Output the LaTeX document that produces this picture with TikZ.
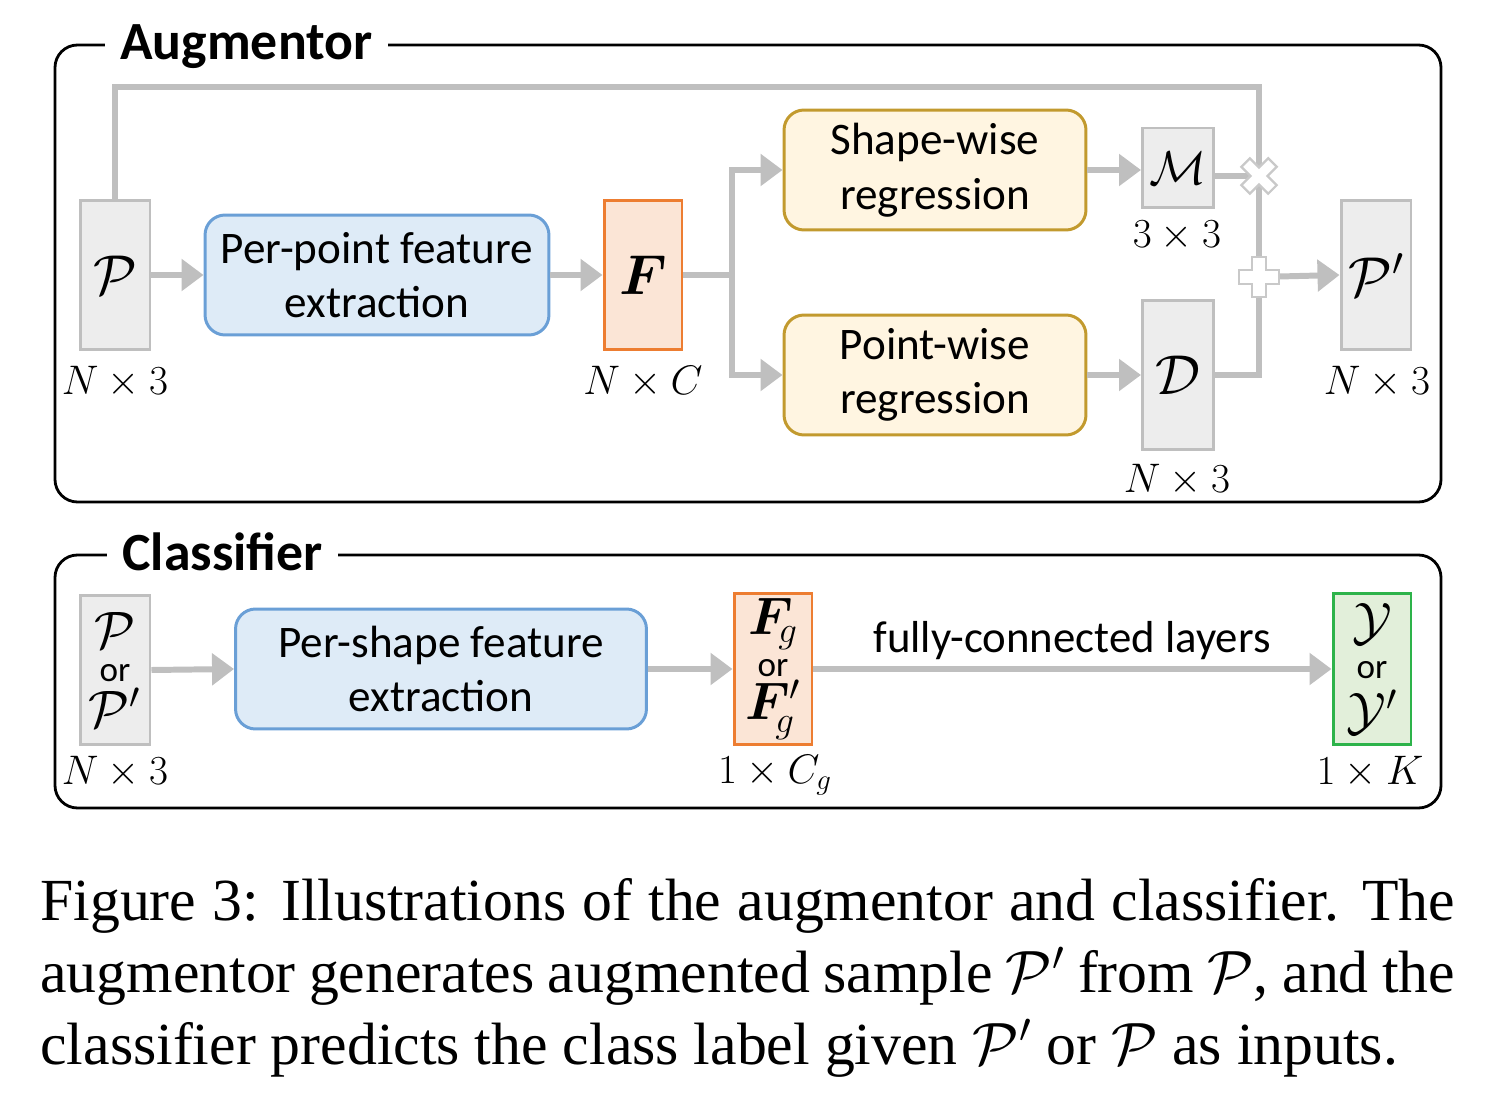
\RequirePackage{fix-cm}
\documentclass[tikz,border=0pt]{standalone}
\usepackage{amsmath}
\usepackage{bm}
\usepackage{fontspec}
\setmainfont{Carlito}
\newfontfamily\capfont{Liberation Serif}
\usetikzlibrary{arrows.meta,calc}
\definecolor{lgray}{HTML}{BFBFBF}
\definecolor{bgray}{HTML}{EDEDED}
\definecolor{bfill}{HTML}{DEEBF7}
\definecolor{bline}{HTML}{6A9FD6}
\definecolor{ofill}{HTML}{FBE5D6}
\definecolor{oline}{HTML}{ED7D31}
\definecolor{yfill}{HTML}{FFF5E1}
\definecolor{yline}{HTML}{C29A2E}
\definecolor{gfill}{HTML}{E2EFDA}
\definecolor{gline}{HTML}{2DB34A}
\tikzset{
  base/.style={inner sep=0pt, line width=1.7pt, align=center},
  graybox/.style={base, draw=lgray, fill=bgray, minimum width=1.4cm, minimum height=3cm},
  orbox/.style={base, draw=oline, fill=ofill, minimum width=1.56cm, minimum height=3cm},
  grbox/.style={base, draw=gline, fill=gfill, minimum width=1.56cm, minimum height=3.04cm},
  bluebox/.style={base, draw=bline, fill=bfill, rounded corners=0.4cm, minimum height=2.4cm,
    font=\fontsize{25.7}{31}\selectfont},
  yelbox/.style={base, draw=yline, fill=yfill, rounded corners=0.4cm, minimum width=6.04cm,
    minimum height=2.4cm, font=\fontsize{25.7}{31}\selectfont},
  conn/.style={draw=lgray, line width=3.4pt},
  arr/.style={conn, -{Triangle[length=0.44cm,width=0.62cm]}},
  dimlbl/.style={inner sep=0pt, font=\fontsize{23.5}{28}\selectfont},
  frame/.style={draw=black, line width=1.6pt, rounded corners=0.45cm},
  ttl/.style={fill=white, inner xsep=0.3cm, inner ysep=0.05cm, font=\fontsize{30.6}{36}\selectfont\bfseries},
  sym/.style={draw=lgray!85, fill=white, line width=1.3pt},
  big/.style={font=\fontsize{32}{36}\selectfont},
  stack/.style={font=\fontsize{30}{24}\selectfont},
}
\newcommand\orw{{\fontsize{20}{20}\selectfont or}}
\begin{document}
\begin{tikzpicture}[x=0.02cm, y=-0.02cm]
\useasboundingbox (0,0) rectangle (1512,1118);

% ---------------- Augmentor ----------------
\draw[frame] (55,45) rectangle (1441,502);
\node[ttl, anchor=base west] (tA) at (105,60) {Augmentor};

\node[graybox, big] (P) at (115,275) {$\mathcal{P}$};
\node[bluebox, minimum width=6.88cm] (pp) at (377,275) {Per-point feature\\extraction};
\node[orbox, big] (F) at (643,275) {$\bm{F}$};
\node[yelbox] (sw) at (935,170) {Shape-wise\\regression};
\node[yelbox] (pw) at (935,375) {Point-wise\\regression};
\node[graybox, font=\fontsize{27}{30}\selectfont, minimum width=1.42cm, minimum height=1.6cm] (M) at (1178,168) {$\mathcal{M}$};
\node[graybox, big, minimum width=1.42cm] (D) at (1178,375) {$\mathcal{D}$};
\node[graybox, big] (Pp) at (1376,275) {$\mathcal{P}'$};

\node[dimlbl] (lP) at (115,382) {$N\times 3$};
\node[dimlbl] (lF) at (643,382) {$N\times C$};
\node[dimlbl] (lM) at (1177,236) {$3\times 3$};
\node[dimlbl] (lD) at (1177,480) {$N\times 3$};
\node[dimlbl] (lPp) at (1377,382) {$N\times 3$};

\coordinate (mul) at (1259,176);
\coordinate (add) at (1259,277);
\coordinate (topr) at (1259,87);
\coordinate (br) at (732,275);

\draw[arr] (P.east) -- (pp.west);
\draw[arr] (pp.east) -- (F.west);
\draw[conn] (F.east) -- (br);
\draw[arr] (br) |- (sw.west);
\draw[arr] (br) |- (pw.west);
\draw[arr] (sw.east) -- (sw.east -| M.west);
\draw[arr] (pw.east) -- (D.west);
\draw[conn] (M.east |- mul) -- (mul);
\draw[conn] (P.north) |- (topr) -- (mul);
\draw[conn] (mul) -- (add);
\draw[conn] (D.east) -| (add);
\draw[arr] (add) -- (Pp.west);

% multiply symbol
\begin{scope}[shift={(mul)}, rotate=45]
\draw[sym] (6,19) -- (6,6) -- (19,6) -- (19,-6) -- (6,-6) -- (6,-19) -- (-6,-19) -- (-6,-6)
  -- (-19,-6) -- (-19,6) -- (-6,6) -- (-6,19) -- cycle;
\end{scope}
% plus symbol
\begin{scope}[shift={(add)}]
\draw[sym] (7,20) -- (7,7) -- (20,7) -- (20,-7) -- (7,-7) -- (7,-20) -- (-7,-20) -- (-7,-7)
  -- (-20,-7) -- (-20,7) -- (-7,7) -- (-7,20) -- cycle;
\end{scope}

% ---------------- Classifier ----------------
\draw[frame] (55,555) rectangle (1441,808);
\node[ttl, anchor=base west] (tC) at (107,570) {Classifier};

\node[graybox, stack] (in) at (115,670) {$\mathcal{P}$\\[-5pt]\orw\\[2pt]$\mathcal{P}'$};
\node[bluebox, minimum width=8.22cm] (ps) at (441,669) {Per-shape feature\\extraction};
\node[orbox, stack, minimum height=3.04cm] (Fg) at (773,669) {$\bm{F}_{\!g}$\\\orw\\$\bm{F}_{\!g}'$};
\node[grbox, stack] (yb) at (1372,669) {$\mathcal{Y}$\\[-2pt]\orw\\[5pt]$\mathcal{Y}'$};

\node[dimlbl] (lin) at (115,772) {$N\times 3$};
\node[dimlbl] (lFg) at (775,775) {$1\times C_g$};
\node[dimlbl] (lyb) at (1370,772) {$1\times K$};
\node[dimlbl, font=\fontsize{25.5}{30}\selectfont] (fc) at (1072,641) {fully-connected layers};

\draw[arr] (in.east) -- (ps.west);
\draw[arr] (ps.east) -- (Fg.west);
\draw[arr] (Fg.east) -- (yb.west);

% ---------------- Caption ----------------
\node[anchor=north west, inner sep=0pt, text width=28.3cm, align=justify,
  font=\capfont\fontsize{34}{41}\selectfont] (cap) at (40,878)
  {\hyphenpenalty=10000 Figure 3: Illustrations of the augmentor and classifier. The\linebreak
   augmentor generates augmented sample $\mathcal{P}'$ from $\mathcal{P}$, and the\linebreak
   classifier predicts the class label given $\mathcal{P}'$ or $\mathcal{P}$ as inputs.};
\end{tikzpicture}
\end{document}
